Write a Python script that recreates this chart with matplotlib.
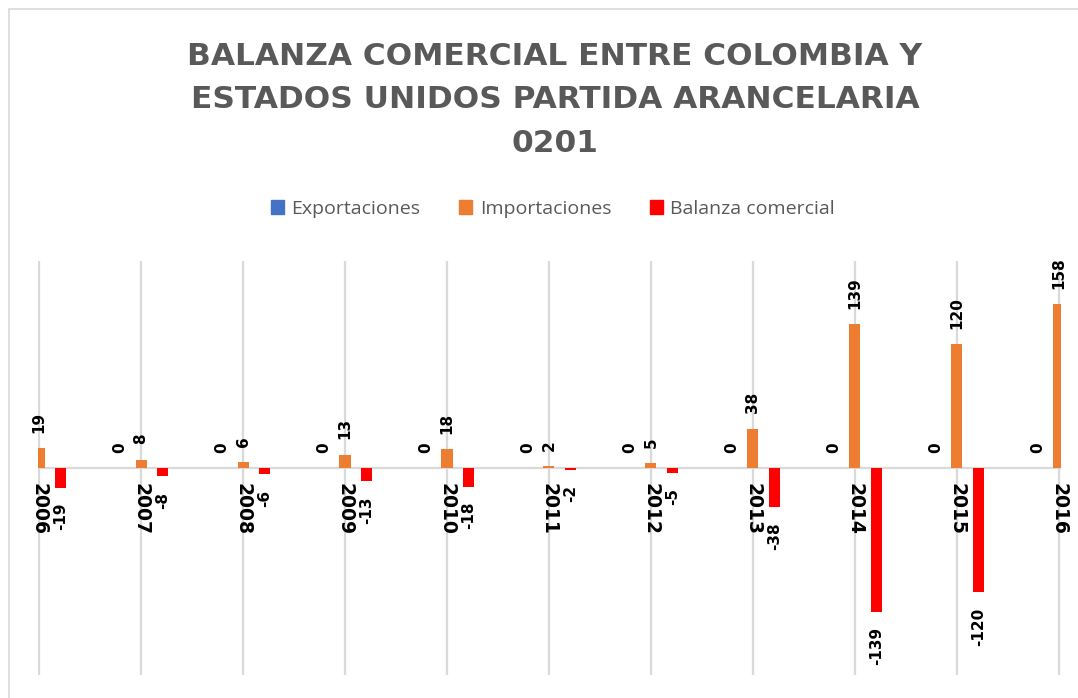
import matplotlib.pyplot as plt
import numpy as np
from matplotlib.patches import Rectangle, Patch

years = ['2006', '2007', '2008', '2009', '2010', '2011', '2012', '2013', '2014', '2015', '2016']
exportaciones = [0, 0, 0, 0, 0, 0, 0, 0, 0, 0, 0]
importaciones = [19, 8, 6, 13, 18, 2, 5, 38, 139, 120, 158]
balanza = [-19, -8, -6, -13, -18, -2, -5, -38, -139, -120, -158]

c_exp = '#4472C4'
c_imp = '#ED7D31'
c_bal = '#FF0000'
grey = '#595959'

W, H = 1078, 698
fig = plt.figure(figsize=(W / 100, H / 100), dpi=100)

# chart frame
fig.patches.append(Rectangle((9 / W, -0.05), 1.1, 1 - 9 / H + 0.05, transform=fig.transFigure,
                             fill=False, edgecolor='#D9D9D9', lw=1.2))

ax = fig.add_axes([38 / W, 1 - 675 / H, (1061 - 38) / W, (675 - 261) / H])
x = np.arange(len(years))
w = 0.108
off = 0.21
ax.bar(x - off, exportaciones, w, color=c_exp, zorder=3)
ax.bar(x, importaciones, w, color=c_imp, zorder=3)
ax.bar(x + off, balanza, w, color=c_bal, zorder=3)

ax.set_xlim(-0.01, 10.02)
ax.set_ylim(-200, 200)
ax.set_xticks(x)
ax.set_yticks([])
ax.tick_params(axis='x', length=0, labelbottom=False)
ax.grid(axis='x', color='#D9D9D9', lw=1.6, zorder=0)
ax.axhline(0, color='#D9D9D9', lw=1.6, zorder=1)
for s in ax.spines.values():
    s.set_visible(False)

lbl = dict(fontsize=11, fontweight='bold', color='black', rotation=90,
           ha='center', textcoords='offset points', family='DejaVu Sans')
for series, dx in [(exportaciones, -off), (importaciones, 0), (balanza, off)]:
    for i, v in enumerate(series):
        if v >= 0:
            ax.annotate(str(v), (i + dx, v), xytext=(0, 11), va='bottom', **lbl)
        else:
            ax.annotate(str(v), (i + dx, v), xytext=(0, -11), va='top', **lbl)

for i, y in enumerate(years):
    ax.annotate(y, (i, 0), xytext=(0, -11), textcoords='offset points', rotation=-90,
                ha='center', va='top', fontsize=13.5, fontweight='bold', color='black',
                family='DejaVu Sans')

fig.text(555 / W, 1 - 100 / H, 'BALANZA COMERCIAL ENTRE COLOMBIA Y\nESTADOS UNIDOS PARTIDA ARANCELARIA\n0201',
         ha='center', va='center', fontsize=22.5, fontweight='bold', color=grey,
         family='DejaVu Sans', linespacing=1.62)

handles = [Patch(color=c_exp), Patch(color=c_imp), Patch(color=c_bal)]
fig.legend(handles, ['Exportaciones', 'Importaciones', 'Balanza comercial'],
           loc='center', bbox_to_anchor=(553 / W, 1 - 209 / H), ncol=3, frameon=False,
           prop={'family': 'Open Sans', 'size': 14}, labelcolor=grey,
           handlelength=0.65, handleheight=0.75, handletextpad=0.4, columnspacing=2.0)

fig.savefig('out.png', dpi=100)
